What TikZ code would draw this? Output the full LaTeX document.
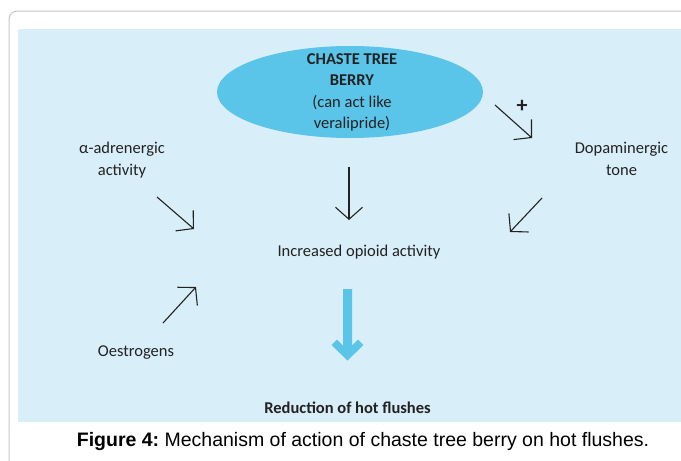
\documentclass[tikz,border=0pt]{standalone}
\usepackage{fontspec}
\setmainfont{Carlito}
\newfontfamily\capfont{Liberation Sans}
\usetikzlibrary{arrows.meta,shapes.geometric}
\definecolor{panel}{HTML}{D8EEF9}
\definecolor{berry}{HTML}{5BC4E9}
\definecolor{framegray}{HTML}{C4C4C4}
\definecolor{ink}{HTML}{222222}
\frenchspacing
\begin{document}
\begin{tikzpicture}[x=1pt,y=-1pt,
  lbl/.style={font=\fontsize{16.5}{21.5}\selectfont, text=ink, align=center, inner sep=0pt},
  boldlbl/.style={lbl, font=\fontsize{16.5}{21.5}\selectfont\bfseries},
  arr/.style={draw=ink, line width=1.1pt, -{Straight Barb[length=12pt,width=27pt]}},
  capt/.style={font=\capfont\fontsize{19.5}{23}\selectfont, text=black, inner sep=0pt}]
\useasboundingbox (0,0) rectangle (681,461);
\clip (0,0) rectangle (681,461);
% outer frame and panel
\draw[framegray, line width=1pt, rounded corners=8pt] (9,470) -- (9,11) -- (690,11);
\fill[panel] (18,29) rectangle (690,422);
% central ellipse
\node[ellipse, fill=berry, minimum width=266pt, minimum height=92pt, inner sep=0pt] (berry) at (350,92) {};
\node[lbl] (berrytxt) at (352,92.5) {\textbf{CHASTE TREE}\\\textbf{BERRY}\\(can act like\\veralipride)};
% labels
\node[lbl] (alpha) at (122,160) {α-adrenergic\\activity};
\node[lbl] (dopa) at (621.5,159) {Dopaminergic\\tone};
\node[lbl] (opioid) at (359,252) {Increased opioid activity};
\node[lbl] (oestro) at (136,353) {Oestrogens};
\node[boldlbl] (reduction) at (347.5,408) {Reduction of hot flushes};
\node[lbl, font=\fontsize{22}{22}\selectfont\bfseries] (plus) at (522,106) {+};
% arrow end points
\coordinate (a1s) at (157,197); \coordinate (a1e) at (194,229);
\coordinate (a2s) at (163,323); \coordinate (a2e) at (196,287);
\coordinate (a3s) at (349,167); \coordinate (a3e) at (349,220);
\coordinate (a4s) at (495,105); \coordinate (a4e) at (532,138);
\coordinate (a5s) at (542,198); \coordinate (a5e) at (510,232);
\draw[arr] (a1s) -- (a1e);
\draw[arr] (a2s) -- (a2e);
\draw[arr] (a3s) -- (a3e);
\draw[arr] (a4s) -- (a4e);
\draw[arr] (a5s) -- (a5e);
% thick blue arrow
\fill[berry] (343,289) -- (352,289) -- (352,345.5) -- (358,339.5) -- (363.5,345) -- (347.5,360.5)
  -- (331.5,345) -- (337,339.5) -- (343,345.5) -- cycle;
% caption
\node[capt] (caption) at (363,441) {\textbf{Figure 4:} Mechanism of action of chaste tree berry on hot flushes.};
\end{tikzpicture}
\end{document}
